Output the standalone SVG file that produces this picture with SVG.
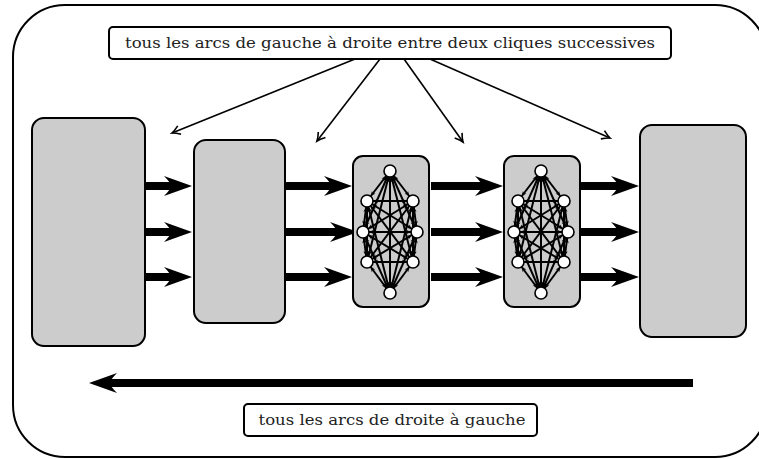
<svg xmlns="http://www.w3.org/2000/svg" xmlns:xlink="http://www.w3.org/1999/xlink" width="759" height="459" viewBox="0 0 759 459">
<style>
.box{fill:#cccccc;stroke:#000;stroke-width:2}
.lbl{fill:#fff;stroke:#000;stroke-width:2}
.txt{font-family:"DejaVu Serif","Liberation Serif",serif;font-size:14.5px;fill:#222;text-anchor:middle}
.thick{stroke:#000;stroke-width:8;fill:none;marker-end:url(#big)}
.thin{stroke:#000;stroke-width:1.6;fill:none;marker-end:url(#to)}
.ce{stroke:#000;stroke-width:2;marker-start:url(#sm);marker-end:url(#sm)}
.nd{fill:#fff;stroke:#000;stroke-width:1.6}
</style>
<defs>
<marker id="big" markerUnits="userSpaceOnUse" viewBox="-28 -10 30 20" markerWidth="30" markerHeight="20" refX="-21" refY="0" orient="auto" overflow="visible">
<path d="M0,0 L-28,-10 Q-21,-3 -21,0 Q-21,3 -28,10 Z" fill="#000"/>
</marker>
<marker id="to" markerUnits="userSpaceOnUse" viewBox="-9 -5 10 10" markerWidth="10" markerHeight="10" refX="0" refY="0" orient="auto" overflow="visible">
<path d="M-8,-4.5 Q-3,-1 0,0 Q-3,1 -8,4.5" fill="none" stroke="#000" stroke-width="1.6"/>
</marker>
<marker id="sm" markerUnits="userSpaceOnUse" viewBox="-6 -3 13 6" markerWidth="13" markerHeight="6" refX="6" refY="0" orient="auto-start-reverse" overflow="visible">
<path d="M0,0 L-5,-2.2 L-3.8,0 L-5,2.2 Z" fill="#000"/>
</marker>
<g id="cliqueGraph">
<line class="ce" x1="0" y1="-61" x2="-23" y2="-31"/>
<line class="ce" x1="0" y1="-61" x2="23" y2="-31"/>
<line class="ce" x1="0" y1="-61" x2="-27" y2="0"/>
<line class="ce" x1="0" y1="-61" x2="27" y2="0"/>
<line class="ce" x1="0" y1="-61" x2="-23" y2="30"/>
<line class="ce" x1="0" y1="-61" x2="23" y2="30"/>
<line class="ce" x1="0" y1="-61" x2="0" y2="61"/>
<line class="ce" x1="-23" y1="-31" x2="23" y2="-31"/>
<line class="ce" x1="-23" y1="-31" x2="-27" y2="0"/>
<line class="ce" x1="-23" y1="-31" x2="27" y2="0"/>
<line class="ce" x1="-23" y1="-31" x2="-23" y2="30"/>
<line class="ce" x1="-23" y1="-31" x2="23" y2="30"/>
<line class="ce" x1="-23" y1="-31" x2="0" y2="61"/>
<line class="ce" x1="23" y1="-31" x2="-27" y2="0"/>
<line class="ce" x1="23" y1="-31" x2="27" y2="0"/>
<line class="ce" x1="23" y1="-31" x2="-23" y2="30"/>
<line class="ce" x1="23" y1="-31" x2="23" y2="30"/>
<line class="ce" x1="23" y1="-31" x2="0" y2="61"/>
<line class="ce" x1="-27" y1="0" x2="27" y2="0"/>
<line class="ce" x1="-27" y1="0" x2="-23" y2="30"/>
<line class="ce" x1="-27" y1="0" x2="23" y2="30"/>
<line class="ce" x1="-27" y1="0" x2="0" y2="61"/>
<line class="ce" x1="27" y1="0" x2="-23" y2="30"/>
<line class="ce" x1="27" y1="0" x2="23" y2="30"/>
<line class="ce" x1="27" y1="0" x2="0" y2="61"/>
<line class="ce" x1="-23" y1="30" x2="23" y2="30"/>
<line class="ce" x1="-23" y1="30" x2="0" y2="61"/>
<line class="ce" x1="23" y1="30" x2="0" y2="61"/>
<circle class="nd" cx="0" cy="-61" r="6"/>
<circle class="nd" cx="-23" cy="-31" r="6"/>
<circle class="nd" cx="23" cy="-31" r="6"/>
<circle class="nd" cx="-27" cy="0" r="6"/>
<circle class="nd" cx="27" cy="0" r="6"/>
<circle class="nd" cx="-23" cy="30" r="6"/>
<circle class="nd" cx="23" cy="30" r="6"/>
<circle class="nd" cx="0" cy="61" r="6"/>
</g>
</defs>
<rect id="frame" x="13" y="5" width="754" height="452" rx="52" fill="#fff" stroke="#000" stroke-width="2"/>
<g id="box1"><rect class="box" x="32" y="118" width="113" height="228" rx="12"/></g>
<g id="box2"><rect class="box" x="194" y="140" width="91" height="183" rx="12"/></g>
<g id="box5"><rect class="box" x="640" y="125" width="106" height="212" rx="12"/></g>
<g id="connectors">
<line class="thick" x1="146" y1="186" x2="171" y2="186"/>
<line class="thick" x1="146" y1="232" x2="171" y2="232"/>
<line class="thick" x1="146" y1="277" x2="171" y2="277"/>
<line class="thick" x1="286" y1="186" x2="331" y2="186"/>
<line class="thick" x1="286" y1="232" x2="337" y2="232"/>
<line class="thick" x1="286" y1="277" x2="331" y2="277"/>
<line class="thick" x1="431" y1="186" x2="482" y2="186"/>
<line class="thick" x1="431" y1="232" x2="482" y2="232"/>
<line class="thick" x1="431" y1="277" x2="482" y2="277"/>
<line class="thick" x1="581" y1="186" x2="618" y2="186"/>
<line class="thick" x1="581" y1="232" x2="618" y2="232"/>
<line class="thick" x1="581" y1="277" x2="618" y2="277"/>
<line class="thick" x1="693" y1="383" x2="110" y2="383"/>
<line class="thin" x1="355" y1="59" x2="172" y2="133"/>
<line class="thin" x1="380" y1="59" x2="317" y2="141"/>
<line class="thin" x1="404" y1="59" x2="463" y2="142"/>
<line class="thin" x1="430" y1="59" x2="610" y2="138"/>
</g>
<g id="clique1"><rect class="box" x="353" y="156" width="76" height="151" rx="10"/><use xlink:href="#cliqueGraph" href="#cliqueGraph" transform="translate(390,232)"/></g>
<g id="clique2"><rect class="box" x="504" y="156" width="76" height="151" rx="10"/><use xlink:href="#cliqueGraph" href="#cliqueGraph" transform="translate(541,232)"/></g>
<g id="label-top"><rect class="lbl" x="109" y="27" width="562" height="32" rx="4"/><text class="txt" x="390" y="47.5" textLength="530" lengthAdjust="spacingAndGlyphs">tous les arcs de gauche à droite entre deux cliques successives</text></g>
<g id="label-bottom"><rect class="lbl" x="244" y="404" width="293" height="32" rx="4"/><text class="txt" x="392" y="425" textLength="267" lengthAdjust="spacingAndGlyphs">tous les arcs de droite à gauche</text></g>
</svg>
